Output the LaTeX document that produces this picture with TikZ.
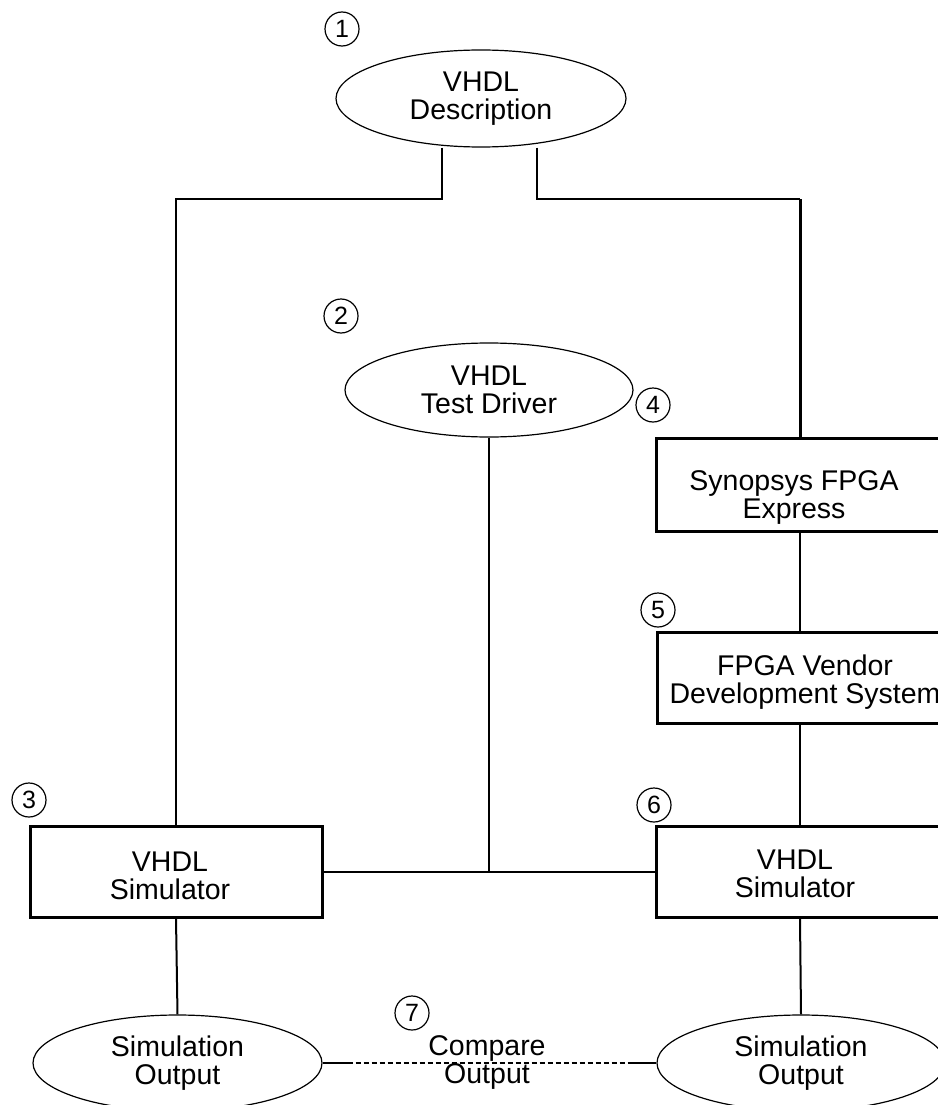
\documentclass[tikz,border=0pt]{standalone}
\usepackage{fontspec}
\setmainfont{Liberation Sans}
\usetikzlibrary{shapes.geometric}
\begin{document}
\begin{tikzpicture}[x=1pt,y=-1pt,
  txt/.style={font=\fontsize{28.5}{28}\selectfont, align=center, inner sep=0pt},
  oval/.style={ellipse, draw, line width=1.2pt, inner sep=0pt, txt},
  box/.style={rectangle, draw, line width=3pt, inner sep=0pt},
  num/.style={circle, draw, line width=1.2pt, minimum size=34pt, inner sep=0pt, font=\fontsize{25}{25}\selectfont},
  conn/.style={line width=2pt},
  thick conn/.style={line width=3pt}]
\useasboundingbox (0,0) rectangle (937,1105);

% ovals
\node[oval, minimum width=290pt, minimum height=97pt] (desc) at (481,98.5) {VHDL\\Description};
\node[oval, minimum width=288pt, minimum height=94pt] (td) at (489,390) {VHDL\\Test Driver};
\node[oval, minimum width=289pt, minimum height=96pt] (lout) at (177.5,1063) {Simulation\\Output};
\node[oval, minimum width=288pt, minimum height=96pt] (rout) at (801,1063) {Simulation\\Output};

% boxes
\node[box, minimum width=292pt, minimum height=91pt] (lsim) at (176,871.5) {};
\node[txt] (lsimt) at (170,876) {VHDL\\Simulator};
\node[box, minimum width=288pt, minimum height=93pt] (syn) at (800,484.5) {};
\node[txt] (synt) at (794,498) {Synopsys FPGA\\Express};
\node[box, minimum width=286pt, minimum height=91pt] (vend) at (800,677.5) {};
\node[txt] (vendt) at (805,682) {FPGA Vendor\\Development System};
\node[box, minimum width=288pt, minimum height=91pt] (rsim) at (800,871.5) {};
\node[txt] (rsimt) at (795,874) {VHDL\\Simulator};

% compare label
\node[txt] (cmp) at (487,1062) {Compare\\Output};

% numbers
\node[num] (n1) at (342,29) {1};
\node[num] (n2) at (341,316) {2};
\node[num] (n3) at (29,800) {3};
\node[num] (n4) at (653,405) {4};
\node[num] (n5) at (658,610) {5};
\node[num] (n6) at (654,805) {6};
\node[num] (n7) at (412,1013) {7};

% connectors
\coordinate (tl) at (442,199);
\coordinate (tr) at (537,199);
\draw[conn] (desc.south -| tl) -- (tl) -- (tl -| lsim.north) -- (lsim.north);
\draw[conn] (desc.south -| tr) -- (tr) -- (tr -| syn.north);
\draw[thick conn] (tr -| syn.north) -- (syn.north);
\draw[conn] (syn.south) -- (vend.north);
\draw[conn] (vend.south) -- (rsim.north);
\draw[conn] (lsim.east) -- (rsim.west);
\draw[conn] (td.south) -- (td.south |- lsim.east);
\draw[conn] (lsim.south) -- (lout.north);
\draw[conn] (rsim.south) -- (rout.north);
\draw[conn] (lout.east) -- ++(25,0) coordinate (da);
\draw[conn] (rout.west) -- ++(-25,0) coordinate (db);
\draw[conn, dash pattern=on 5pt off 3pt] (da) -- (db);
\end{tikzpicture}
\end{document}
